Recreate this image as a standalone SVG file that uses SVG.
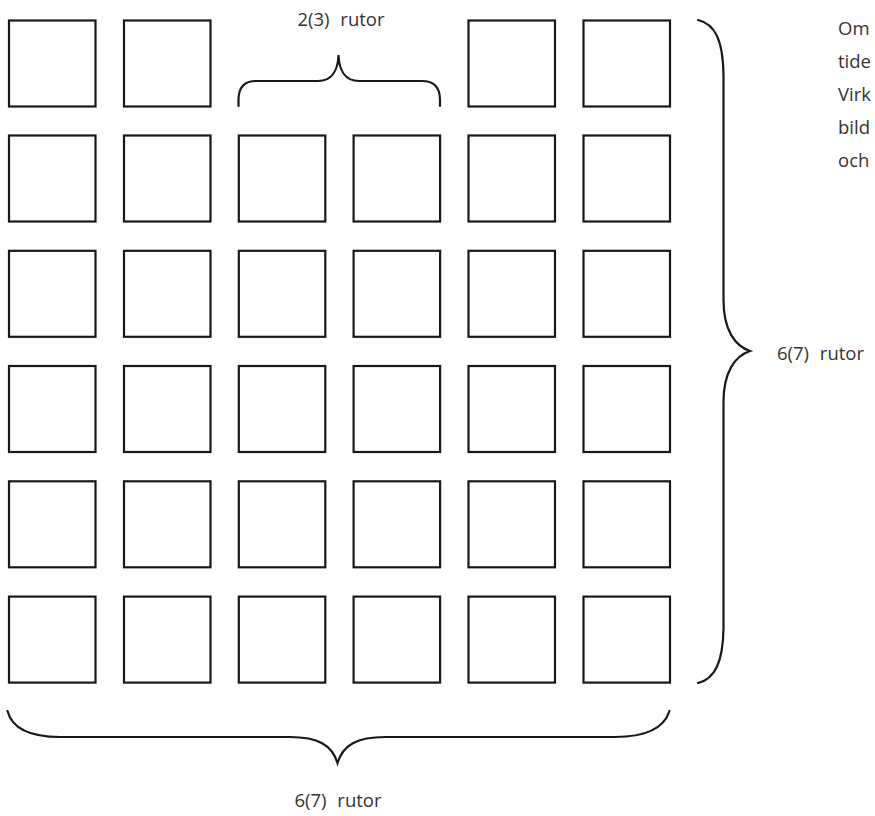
<svg xmlns="http://www.w3.org/2000/svg" width="875" height="816" viewBox="0 0 875 816">
<style>
.box{fill:#fff;stroke:#16181d;stroke-width:2.2}
.brace{fill:none;stroke:#16181d;stroke-width:2.2;stroke-linecap:round}
.lbl{font-family:"Open Sans","Noto Sans",sans-serif;font-size:18.5px;fill:#333;word-spacing:6px}
</style>
<rect width="875" height="816" fill="#fff"/>
<defs>
<rect id="sq" width="86.5" height="86" class="box"/>
</defs>
<g id="grid">
<g id="r1">
<use href="#sq" x="9" y="20.5"/><use href="#sq" x="124" y="20.5"/><use href="#sq" x="468.5" y="20.5"/><use href="#sq" x="583.5" y="20.5"/>
</g>
<g id="r2">
<use href="#sq" x="9" y="135.5"/><use href="#sq" x="124" y="135.5"/><use href="#sq" x="238.8" y="135.5"/><use href="#sq" x="353.6" y="135.5"/><use href="#sq" x="468.5" y="135.5"/><use href="#sq" x="583.5" y="135.5"/>
</g>
<g id="r3">
<use href="#sq" x="9" y="250.8"/><use href="#sq" x="124" y="250.8"/><use href="#sq" x="238.8" y="250.8"/><use href="#sq" x="353.6" y="250.8"/><use href="#sq" x="468.5" y="250.8"/><use href="#sq" x="583.5" y="250.8"/>
</g>
<g id="r4">
<use href="#sq" x="9" y="366"/><use href="#sq" x="124" y="366"/><use href="#sq" x="238.8" y="366"/><use href="#sq" x="353.6" y="366"/><use href="#sq" x="468.5" y="366"/><use href="#sq" x="583.5" y="366"/>
</g>
<g id="r5">
<use href="#sq" x="9" y="481.3"/><use href="#sq" x="124" y="481.3"/><use href="#sq" x="238.8" y="481.3"/><use href="#sq" x="353.6" y="481.3"/><use href="#sq" x="468.5" y="481.3"/><use href="#sq" x="583.5" y="481.3"/>
</g>
<g id="r6">
<use href="#sq" x="9" y="596.6"/><use href="#sq" x="124" y="596.6"/><use href="#sq" x="238.8" y="596.6"/><use href="#sq" x="353.6" y="596.6"/><use href="#sq" x="468.5" y="596.6"/><use href="#sq" x="583.5" y="596.6"/>
</g>
</g>
<g id="braces">
<path class="brace" d="M238.5,106 L238.5,100 C238.5,88 244,81 256,81 L318,81 C332,81 338,70 338.5,55 C339,70 345,81 359,81 L422,81 C434,81 440,88 440,100 L440,106"/>
<path class="brace" d="M698,20 C715,24 723,40 723.5,75 L723.5,300 C723.5,330 735,346 750,351 C735,356 723.5,372 723.5,402 L723.5,628 C723,662 715,679 698,683"/>
<path class="brace" d="M7.5,711 C12,728 30,737 60,737 L290,737 C318,737 332,745 337.5,763 C343,745 357,737 385,737 L615,737 C645,737 664,728 669.5,711"/>
</g>
<g id="labels">
<text class="lbl" x="341" y="26" text-anchor="middle">2(3) rutor</text>
<text class="lbl" x="777" y="360">6(7) rutor</text>
<text class="lbl" x="338" y="807" text-anchor="middle">6(7) rutor</text>
<text class="lbl" x="838" y="35">Om</text>
<text class="lbl" x="838" y="68">tide</text>
<text class="lbl" x="838" y="101">Virk</text>
<text class="lbl" x="838" y="134">bild</text>
<text class="lbl" x="838" y="167">och</text>
</g>
</svg>
